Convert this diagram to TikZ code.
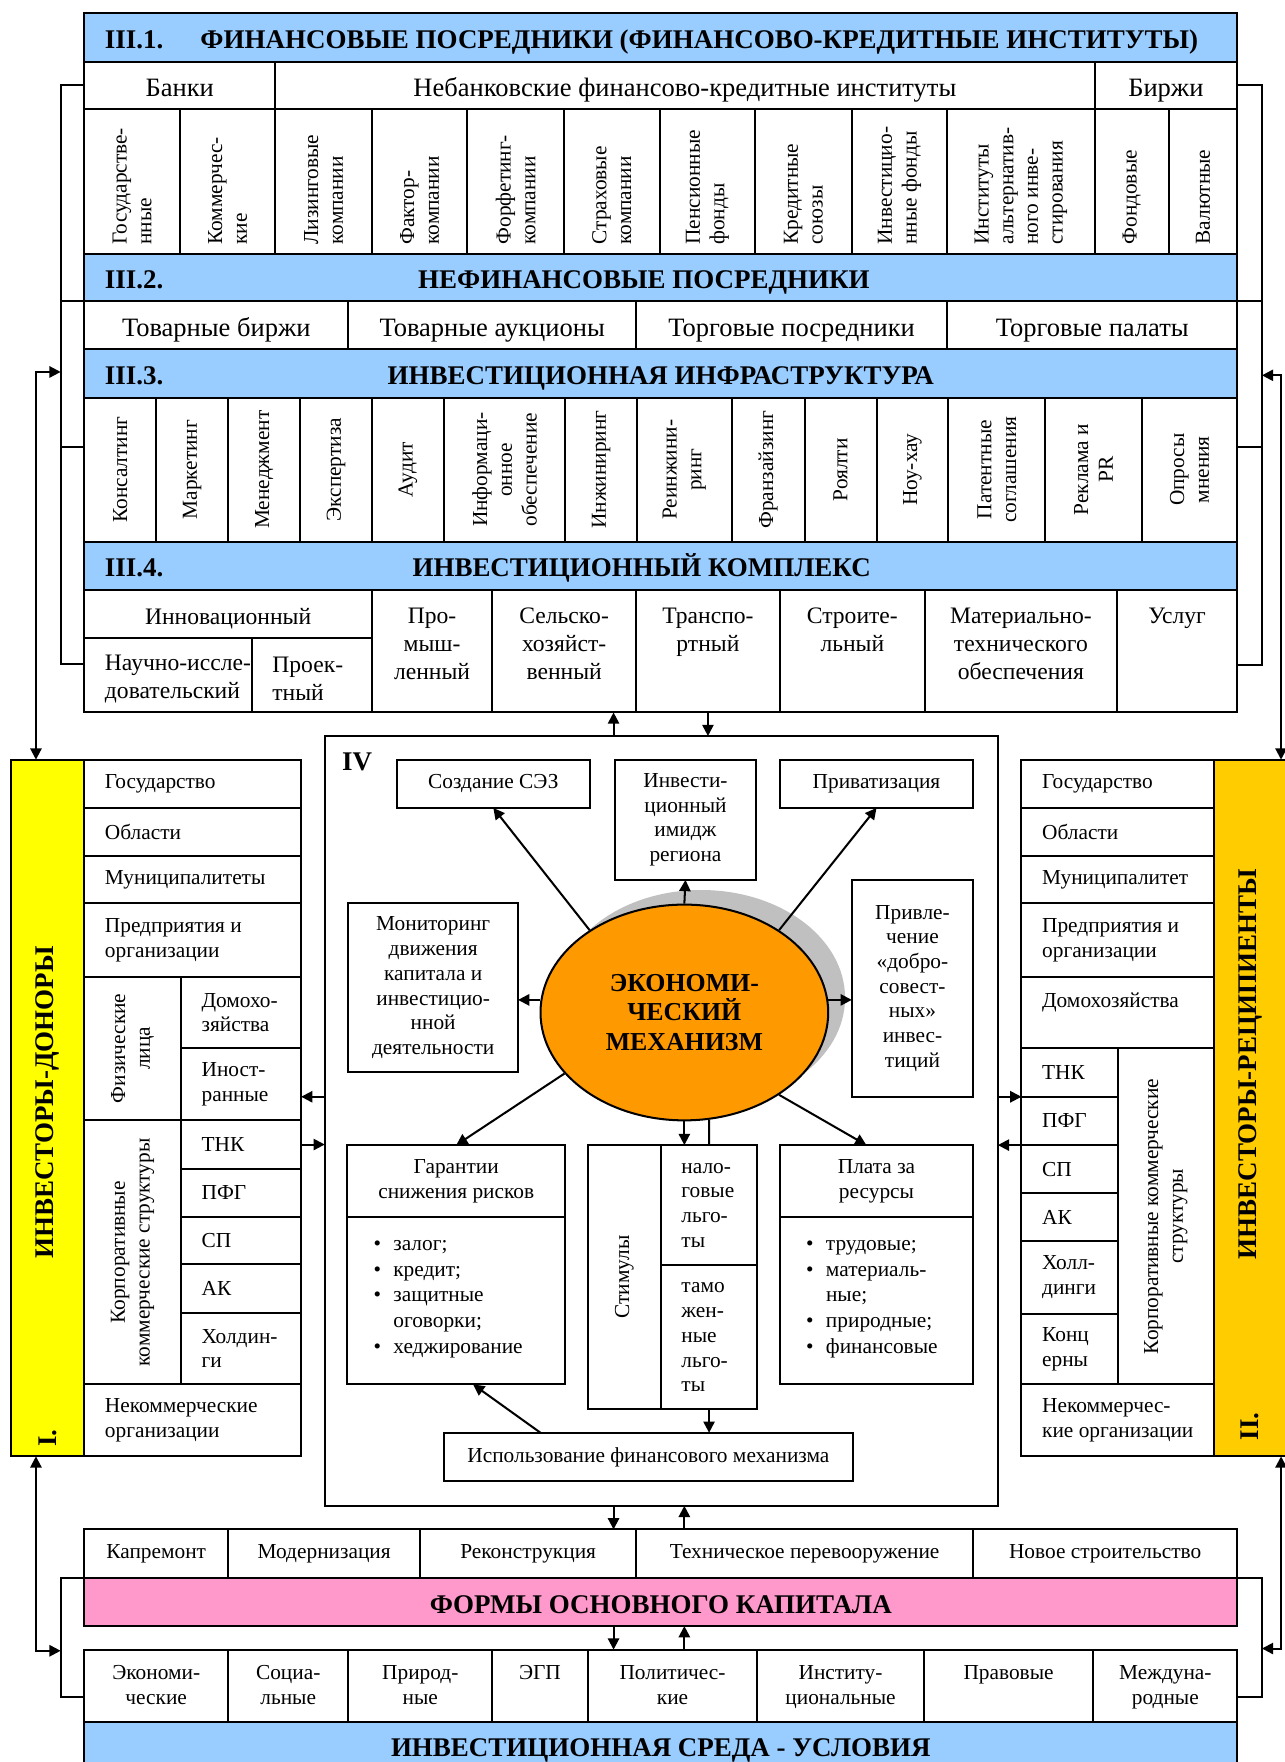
\documentclass[tikz,border=0pt]{standalone}
\usepackage{fontspec}
\setmainfont{Liberation Serif}
\usetikzlibrary{arrows.meta,shapes.geometric,shadows,calc}

\definecolor{bandblue}{HTML}{99CCFF}
\definecolor{formpink}{HTML}{FF99CC}
\definecolor{donoryellow}{HTML}{FFFF00}
\definecolor{recipyellow}{HTML}{FFCC00}
\definecolor{mechorange}{HTML}{FF9900}
\definecolor{shadowgray}{HTML}{C0C0C0}

\newcommand{\bodyfont}{\fontsize{9.5}{11}\selectfont}
\newcommand{\listfont}{\fontsize{9.5}{11.4}\selectfont}
\newcommand{\midfont}{\fontsize{10.5}{12.5}\selectfont}
\newcommand{\bigfont}{\fontsize{11.8}{13}\selectfont}
\newcommand{\hdrfont}{\fontsize{12}{13}\selectfont\bfseries}

\tikzset{
  cellbox/.style={draw, line width=0.9pt, inner sep=0pt, outer sep=0pt, align=center, font=\bodyfont},
  band/.style={fill=bandblue},
  txt/.style={inner sep=0pt, align=center, font=\bodyfont},
  ltxt/.style={inner sep=0pt, align=left, font=\bodyfont, anchor=west},
  vtxt/.style={txt, rotate=90},
  hdr/.style={inner sep=0pt, font=\hdrfont},
  bandtxt/.style={hdr, text height=8.5pt, text depth=0pt, yshift=-0.5pt},
  bigrow/.style={font=\bigfont, text height=10pt, text depth=0pt},
  hdrrow/.style={font=\hdrfont, text height=10pt, text depth=0pt},
  midtop/.style={font=\midfont, yshift=-6pt},
  bodytop/.style={font=\bodyfont, yshift=-5.3pt},
  arr/.style={-{Triangle[length=5pt,width=5pt]}, line width=0.9pt},
  arrs/.style={{Triangle[length=5pt,width=5pt]}-{Triangle[length=5pt,width=5pt]}, line width=0.9pt},
  conn/.style={line width=0.9pt},
}

% cell: [opts]{name}{x1}{y1}{x2}{y2}{text}
\newcommand{\mkcell}[7][]{\node[cellbox,minimum width={(#5-#3)*0.5pt},minimum height={(#6-#4)*0.5pt},#1] (#2) at ({(#3+#5)/2},{(#4+#6)/2}) {#7};}
\newcommand{\mklcell}[7][]{\mkcell{#2}{#3}{#4}{#5}{#6}{}\node[ltxt,#1] (#2-t) at ([xshift=9pt]#2.west) {#7};}
\newcommand{\mkvcell}[7][]{\mkcell{#2}{#3}{#4}{#5}{#6}{}\node[vtxt,#1] (#2-t) at (#2.center) {#7};}
\newcommand{\mkbvcell}[7][]{\mkcell{#2}{#3}{#4}{#5}{#6}{}\node[vtxt,anchor=west,align=left,#1] (#2-t) at ([yshift=4pt]#2.south) {#7};}
\newcommand{\mktcell}[7][]{\mkcell{#2}{#3}{#4}{#5}{#6}{}\node[txt,anchor=north,#1] (#2-t) at (#2.north) {\strut#7};}

\begin{document}
\begin{tikzpicture}[x=0.5pt,y=-0.5pt]
\useasboundingbox (0,0) rectangle (1143,1568);

% III.1
\mkcell[band]{h1}{75}{12}{1101}{55}{}
\node[bandtxt,anchor=west] (h1-n) at ([xshift=9pt]h1.west) {III.1.};
\node[bandtxt,anchor=west] (h1-t) at ([xshift=51.5pt]h1.west) {ФИНАНСОВЫЕ ПОСРЕДНИКИ (ФИНАНСОВО-КРЕДИТНЫЕ ИНСТИТУТЫ)};
\mkcell[bigrow]{bank}{75}{55}{245}{97}{Банки}
\mkcell[bigrow]{nebank}{245}{55}{974}{97}{Небанковские финансово-кредитные институты}
\mkcell[bigrow]{birzh}{974}{55}{1101}{97}{Биржи}
\mkbvcell{gosb}{75}{97}{160}{226}{Государстве-\\нные}
\mkbvcell{komb}{160}{97}{245}{226}{Коммерчес-\\кие}
\mkbvcell{lizing}{245}{97}{331}{226}{Лизинговые\\компании}
\mkbvcell{faktor}{331}{97}{416}{226}{Фактор-\\компании}
\mkbvcell{forfet}{416}{97}{502}{226}{Форфетинг-\\компании}
\mkbvcell{strah}{502}{97}{587}{226}{Страховые\\компании}
\mkbvcell{pens}{587}{97}{672}{226}{Пенсионные\\фонды}
\mkbvcell{kred}{672}{97}{758}{226}{Кредитные\\союзы}
\mkbvcell{invf}{758}{97}{843}{226}{Инвестицио-\\нные фонды}
\mkbvcell{alt}{843}{97}{974}{226}{Институты\\альтернатив-\\ного инве-\\стирования}
\mkbvcell{fond}{974}{97}{1040}{226}{Фондовые}
\mkbvcell{valut}{1040}{97}{1101}{226}{Валютные}

% III.2
\mkcell[band]{h2}{75}{226}{1101}{268}{}
\node[bandtxt,anchor=west] (h2-n) at ([xshift=9pt]h2.west) {III.2.};
\node[bandtxt] (h2-t) at ([xshift=-7.5pt]h2.center) {НЕФИНАНСОВЫЕ ПОСРЕДНИКИ};
\mkcell[bigrow]{tovb}{75}{268}{310}{311}{Товарные биржи}
\mkcell[bigrow]{tova}{310}{268}{566}{311}{Товарные аукционы}
\mkcell[bigrow]{torgp}{566}{268}{843}{311}{Торговые посредники}
\mkcell[bigrow]{tovp}{843}{268}{1101}{311}{Торговые палаты}

% III.3
\mkcell[band]{h3}{75}{311}{1101}{354}{}
\node[bandtxt,anchor=west] (h3-n) at ([xshift=9pt]h3.west) {III.3.};
\node[bandtxt] (h3-t) at (h3.center) {ИНВЕСТИЦИОННАЯ ИНФРАСТРУКТУРА};
\mkvcell{kons}{75}{354}{139}{482}{Консалтинг}
\mkvcell{mark}{139}{354}{203}{482}{Маркетинг}
\mkvcell{menedzh}{203}{354}{267}{482}{Менеджмент}
\mkvcell{ekspert}{267}{354}{331}{482}{Экспертиза}
\mkvcell{audit}{331}{354}{395}{482}{Аудит}
\mkvcell{inform}{395}{354}{503}{482}{Информаци-\\онное\\обеспечение}
\mkvcell{inzh}{503}{354}{567}{482}{Инжиниринг}
\mkvcell{reinzh}{567}{354}{651}{482}{Реинжини-\\ринг}
\mkvcell{franch}{651}{354}{716}{482}{Франзайзинг}
\mkvcell{royal}{716}{354}{780}{482}{Роялти}
\mkvcell{nouhau}{780}{354}{844}{482}{Ноу-хау}
\mkvcell{patent}{844}{354}{930}{482}{Патентные\\соглашения}
\mkvcell{reklama}{930}{354}{1016}{482}{Реклама и\\PR}
\mkvcell{opros}{1016}{354}{1101}{482}{Опросы\\мнения}

% III.4
\mkcell[band]{h4}{75}{482}{1101}{525}{}
\node[bandtxt,anchor=west] (h4-n) at ([xshift=9pt]h4.west) {III.4.};
\node[bandtxt] (h4-t) at ([xshift=-8.5pt]h4.center) {ИНВЕСТИЦИОННЫЙ КОМПЛЕКС};
\mkcell[font=\midfont,text height=9pt,text depth=0pt]{innov}{75}{525}{331}{568}{Инновационный}
\mklcell[font=\midfont,yshift=-1.5pt]{nauch}{75}{568}{224}{634}{Научно-иссле-\\довательский}
\mklcell[font=\midfont,yshift=-1.5pt]{proekt}{224}{568}{331}{634}{Проек-\\тный}
\mktcell[midtop]{prom}{331}{525}{438}{634}{Про-\\мыш-\\ленный}
\mktcell[midtop]{selsk}{438}{525}{566}{634}{Сельско-\\хозяйст-\\венный}
\mktcell[midtop]{transp}{566}{525}{694}{634}{Транспо-\\ртный}
\mktcell[midtop]{stroit}{694}{525}{823}{634}{Строите-\\льный}
\mktcell[midtop]{mater}{823}{525}{994}{634}{Материально-\\технического\\обеспечения}
\mktcell[midtop]{uslug}{994}{525}{1101}{634}{Услуг}

% I. investors-donors
\mkcell[fill=donoryellow]{yelL}{10}{676}{75}{1296}{}
\node[hdr,rotate=90] (yelL-t) at ([yshift=2.5pt]yelL.center) {ИНВЕСТОРЫ-ДОНОРЫ};
\node[hdr,rotate=90,anchor=west] (yelL-n) at ([yshift=4pt]yelL.south) {I.};
\mklcell{gosL}{75}{676}{268}{719}{Государство}
\mklcell{oblL}{75}{719}{268}{762}{Области}
\mklcell{munL}{75}{762}{268}{804}{Муниципалитеты}
\mklcell{predL}{75}{804}{268}{869}{Предприятия и\\организации}
\mkvcell{fizL}{75}{869}{161}{997}{Физические\\лица}
\mklcell{domL}{161}{869}{268}{933}{Домохо-\\зяйства}
\mklcell{inostr}{161}{933}{268}{997}{Иност-\\ранные}
\mkvcell{korpL}{75}{997}{161}{1232}{Корпоративные\\коммерческие структуры}
\mklcell{tnkL}{161}{997}{268}{1040}{ТНК}
\mklcell{pfgL}{161}{1040}{268}{1083}{ПФГ}
\mklcell{spL}{161}{1083}{268}{1125}{СП}
\mklcell{akL}{161}{1125}{268}{1168}{АК}
\mklcell{holdL}{161}{1168}{268}{1232}{Холдин-\\ги}
\mklcell{nekL}{75}{1232}{268}{1296}{Некоммерческие\\организации}

% II. investors-recipients
\mkcell[fill=recipyellow]{yelR}{1080}{676}{1145}{1296}{}
\node[hdr,rotate=90] (yelR-t) at ([yshift=19.5pt]yelR.center) {ИНВЕСТОРЫ-РЕЦИПИЕНТЫ};
\node[hdr,rotate=90,anchor=west] (yelR-n) at ([yshift=7pt]yelR.south) {II.};
\mklcell{gosR}{909}{676}{1080}{719}{Государство}
\mklcell{oblR}{909}{719}{1080}{762}{Области}
\mklcell{munR}{909}{762}{1080}{804}{Муниципалитет}
\mklcell{predR}{909}{804}{1080}{869}{Предприятия и\\организации}
\mklcell{domR}{909}{869}{1080}{933}{Домохозяйства\\~}
\mkvcell{korpR}{995}{933}{1080}{1232}{Корпоративные коммерческие\\структуры}
\mklcell{tnkR}{909}{933}{995}{976}{ТНК}
\mklcell{pfgR}{909}{976}{995}{1019}{ПФГ}
\mklcell{spR}{909}{1019}{995}{1062}{СП}
\mklcell{akR}{909}{1062}{995}{1104}{АК}
\mklcell{holdR}{909}{1104}{995}{1169}{Холл-\\динги}
\mklcell{koncR}{909}{1169}{995}{1232}{Конц\\ерны}
\mklcell{nekR}{909}{1232}{1080}{1296}{Некоммерчес-\\кие организации}

% IV. economic mechanism
\mkcell{iv}{289}{655}{888}{1340}{}
\node[hdr] (iv-n) at ([xshift=14.4pt,yshift=-11.3pt]iv.north west) {IV};
\mkcell{sez}{353}{676}{525}{719}{Создание СЭЗ}
\mkcell{img}{547}{676}{673}{783}{Инвести-\\ционный\\имидж\\региона}
\mkcell{priv}{694}{676}{866}{719}{Приватизация}
\mkcell{mon}{310}{804}{461}{954}{Мониторинг\\движения\\капитала и\\инвестицио-\\нной\\деятельности}
\mkcell{privl}{758}{783}{866}{976}{Привле-\\чение\\«добро-\\совест-\\ных»\\инвес-\\тиций}
\mkcell{garH}{309}{1019}{503}{1083}{Гарантии\\снижения рисков}
\mkcell{garB}{309}{1083}{503}{1232}{}
\node[txt,anchor=north west,align=left,font=\listfont,xshift=11.5pt,yshift=-6.8pt] (garB-t) at (garB.north west)
  {\begin{tabular}{@{}l@{\hspace{5.5pt}}l@{}}\textbullet & залог;\\ \textbullet & кредит;\\ \textbullet & защитные\\ & оговорки;\\ \textbullet & хеджирование\end{tabular}};
\mkvcell{stim}{523}{1019}{588}{1254}{Стимулы}
\mklcell{nalog}{588}{1019}{674}{1126}{нало-\\говые\\льго-\\ты}
\mklcell{tamozh}{588}{1126}{674}{1254}{тамо\\жен-\\ные\\льго-\\ты}
\mkcell{plH}{694}{1019}{866}{1083}{Плата за\\ресурсы}
\mkcell{plB}{694}{1083}{866}{1232}{}
\node[txt,anchor=north west,align=left,font=\listfont,xshift=11.5pt,yshift=-6.8pt] (plB-t) at (plB.north west)
  {\begin{tabular}{@{}l@{\hspace{5.5pt}}l@{}}\textbullet & трудовые;\\ \textbullet & материаль-\\ & ные;\\ \textbullet & природные;\\ \textbullet & финансовые\end{tabular}};
\mkcell{ispol}{395}{1275}{759}{1318}{Использование финансового механизма}

\node[ellipse, draw, line width=0.9pt, fill=mechorange, minimum width=128pt, minimum height=96pt,
  inner sep=0pt, align=center, font=\fontsize{11.5}{13}\selectfont\bfseries,
  general shadow={fill=shadowgray, shadow xshift=7.5pt, shadow yshift=6.5pt}] (mech) at (609,901)
  {ЭКОНОМИ-\\ЧЕСКИЙ\\МЕХАНИЗМ};

\draw[arr] (mech.139) -- (sez.south);
\draw[arr] (mech.41) -- (priv.south);
\draw[arr] (mech.north) -- (img.south);
\draw[arr] (mech.175) -- (mech.175 -| mon.east);
\draw[arr] (mech.5) -- (mech.5 -| privl.west);
\draw[arr] (mech.207) -- (garH.north);
\draw[arr] (mech.-41) -- ([xshift=-4.5pt]plH.north);
\draw[arr] (mech.south) -- (mech.south |- nalog.north);
\draw[conn] (mech.-77) -- (nalog.north);
\draw[arr] (tamozh.south) -- (tamozh.south |- ispol.north);
\draw[arr] ([xshift=43pt]ispol.north west) -- ([xshift=7.5pt]garB.south);

% forms of fixed capital
\mkcell{kapr}{75}{1361}{203}{1404}{Капремонт}
\mkcell{modern}{203}{1361}{374}{1404}{Модернизация}
\mkcell{rekon}{374}{1361}{566}{1404}{Реконструкция}
\mkcell{tech}{566}{1361}{866}{1404}{Техническое перевооружение}
\mkcell{novo}{866}{1361}{1101}{1404}{Новое строительство}
\mkcell[fill=formpink,hdrrow]{formy}{75}{1404}{1101}{1447}{ФОРМЫ ОСНОВНОГО КАПИТАЛА}

% investment environment
\mktcell[bodytop]{econ}{75}{1468}{203}{1532}{Экономи-\\ческие}
\mktcell[bodytop]{soc}{203}{1468}{310}{1532}{Социа-\\льные}
\mktcell[bodytop]{prir}{310}{1468}{438}{1532}{Природ-\\ные}
\mktcell[bodytop]{egp}{438}{1468}{523}{1532}{ЭГП}
\mktcell[bodytop]{polit}{523}{1468}{674}{1532}{Политичес-\\кие}
\mktcell[bodytop]{inst}{674}{1468}{822}{1532}{Институ-\\циональные}
\mktcell[bodytop]{prav}{822}{1468}{973}{1532}{Правовые}
\mktcell[bodytop]{mezhd}{973}{1468}{1101}{1532}{Междуна-\\родные}
\mkcell[band,hdrrow]{sreda}{75}{1532}{1101}{1575}{ИНВЕСТИЦИОННАЯ СРЕДА - УСЛОВИЯ}

% links between blocks
\coordinate (xa) at (546,0);
\draw[arr] (iv.north -| xa) -- (selsk.south -| xa);
\draw[arr] (transp.south) -- (transp.south |- iv.north);
\draw[arr] (iv.south -| xa) -- (rekon.north -| xa);
\draw[arr] (tech.north -| mech) -- (iv.south -| mech);
\draw[arr] (formy.south -| xa) -- (polit.north -| xa);
\draw[arr] (polit.north -| mech) -- (formy.south -| mech);
\draw[arr] (iv.west |- tnkR.south) -- (inostr.east |- tnkR.south);
\draw[arr] (tnkL.east) -- (tnkL.east -| iv.west);
\draw[arr] (iv.east |- tnkR.south west) -- (tnkR.south west);
\draw[arr] (pfgR.south west) -- (pfgR.south west -| iv.east);

% side brackets
\draw[conn] (bank.west) -| ($(nauch.west)+(-21,-10)$) -- ($(nauch.west)+(0,-10)$);
\draw[conn] (tovb.north west) -- ++(-21,0);
\draw[conn] ($(kons.west)+(0,-20)$) -- ++(-21,0);
\coordinate (brL) at ($(bank.west)+(-21,255)$);
\draw[arrs] (brL) -| ($(yelL.north west)+(22,0)$);
\draw[conn] (birzh.east) -| ($(uslug.east)+(22,12)$) -- ($(uslug.east)+(0,12)$);
\draw[conn] (tovp.north east) -- ++(22,0);
\draw[conn] ($(opros.east)+(0,-20)$) -- ++(22,0);
\coordinate (brR) at ($(birzh.east)+(22,258)$);
\draw[arrs] (brR) -| ($(yelR.north west)+(60,0)$);
\draw[conn] (kapr.south west) -- ++(-21,0) |- ($(econ.west)+(0,10)$);
\coordinate (brL2) at ($(kapr.south west)+(-21,65)$);
\draw[arrs] ($(yelL.south west)+(22,0)$) |- (brL2);
\draw[conn] (novo.south east) -- ++(22,0) |- ($(mezhd.east)+(0,10)$);
\coordinate (brR2) at ($(novo.south east)+(22,63)$);
\draw[arrs] ($(yelR.south west)+(60,0)$) |- (brR2);
\end{tikzpicture}
\end{document}
